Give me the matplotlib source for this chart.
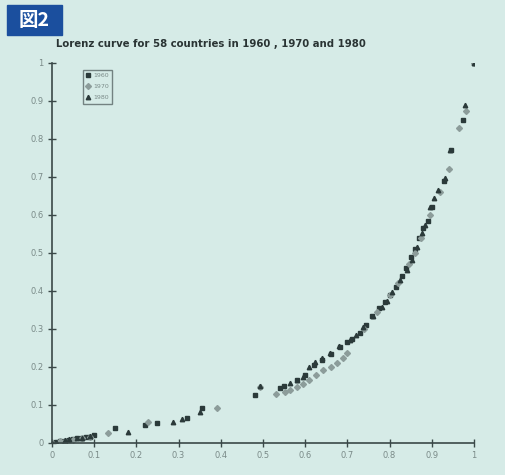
import matplotlib
matplotlib.use('Agg')
import matplotlib.pyplot as plt
from matplotlib.patches import Rectangle

# cumulative share of population (x) vs cumulative share of income (y)
x60 = [0.0, 0.01, 0.02, 0.03, 0.04, 0.05, 0.06, 0.07, 0.08, 0.09, 0.10, 0.149, 0.22, 0.25, 0.32,
       0.355, 0.48, 0.54, 0.55, 0.58, 0.60, 0.62, 0.64, 0.66, 0.682, 0.70, 0.71, 0.73, 0.745, 0.758,
       0.775, 0.79, 0.80, 0.815, 0.83, 0.84, 0.85, 0.86, 0.87, 0.88, 0.89, 0.9, 0.93, 0.945, 0.975, 1.0]
y60 = [0.0, 0.002, 0.004, 0.006, 0.008, 0.01, 0.012, 0.013, 0.015, 0.017, 0.02, 0.039, 0.047, 0.052, 0.066,
       0.092, 0.126, 0.145, 0.15, 0.166, 0.18, 0.205, 0.218, 0.235, 0.253, 0.265, 0.275, 0.289, 0.31, 0.335,
       0.355, 0.37, 0.39, 0.41, 0.44, 0.46, 0.49, 0.51, 0.54, 0.565, 0.585, 0.62, 0.69, 0.77, 0.85, 1.0]

x70 = [0.0, 0.02, 0.03, 0.05, 0.07, 0.09, 0.133, 0.227, 0.39, 0.493, 0.53, 0.552, 0.565, 0.58, 0.595,
       0.61, 0.625, 0.642, 0.66, 0.675, 0.69, 0.70, 0.74, 0.77, 0.80, 0.82, 0.845, 0.86, 0.875, 0.895,
       0.92, 0.94, 0.965, 0.98, 1.0]
y70 = [0.0, 0.004, 0.005, 0.008, 0.012, 0.016, 0.026, 0.055, 0.092, 0.147, 0.128, 0.134, 0.14, 0.147, 0.156,
       0.166, 0.178, 0.192, 0.2, 0.21, 0.225, 0.237, 0.3, 0.345, 0.39, 0.42, 0.47, 0.5, 0.54, 0.6,
       0.66, 0.72, 0.83, 0.875, 1.0]

x80 = [0.0, 0.01, 0.03, 0.04, 0.06, 0.07, 0.09, 0.18, 0.287, 0.308, 0.35, 0.493, 0.564, 0.58, 0.595,
       0.61, 0.623, 0.64, 0.659, 0.68, 0.706, 0.72, 0.737, 0.76, 0.782, 0.795, 0.806, 0.825, 0.841, 0.853,
       0.865, 0.877, 0.885, 0.896, 0.905, 0.915, 0.931, 0.943, 0.979, 1.0]
y80 = [0.0, 0.003, 0.007, 0.01, 0.012, 0.014, 0.018, 0.03, 0.055, 0.063, 0.082, 0.15, 0.158, 0.166, 0.174,
       0.2, 0.213, 0.225, 0.237, 0.255, 0.271, 0.285, 0.305, 0.335, 0.358, 0.375, 0.397, 0.429, 0.455, 0.482,
       0.516, 0.553, 0.575, 0.621, 0.645, 0.666, 0.697, 0.771, 0.889, 1.0]

ticks = [0, 0.1, 0.2, 0.3, 0.4, 0.5, 0.6, 0.7, 0.8, 0.9, 1]
tick_labels = ['0', '0.1', '0.2', '0.3', '0.4', '0.5', '0.6', '0.7', '0.8', '0.9', '1']

bg = '#d6ebe7'
dark = '#2b3a3a'
grey = '#8c9c9a'

fig = plt.figure(figsize=(5.06, 4.75), dpi=100, facecolor=bg)
ax = fig.add_axes([52 / 506, 32 / 475, 422 / 506, 380 / 475])
ax.set_facecolor(bg)

ax.plot(x60, y60, 's', ms=3, color=dark, mec=dark, label='1960')
ax.plot(x70, y70, 'D', ms=3, color=grey, mec=grey, label='1970')
ax.plot(x80, y80, '^', ms=3.2, color=dark, mec=dark, label='1980')

ax.set_xlim(0, 1)
ax.set_ylim(0, 1)
ax.set_xticks(ticks)
ax.set_xticklabels(tick_labels)
ax.set_yticks(ticks)
ax.set_yticklabels(tick_labels)
for s in ['top', 'right']:
    ax.spines[s].set_visible(False)
for s in ['left', 'bottom']:
    ax.spines[s].set_color('#3a4848')
    ax.spines[s].set_linewidth(1.2)
ax.tick_params(direction='inout', length=6, width=1, colors='#3a4848',
               labelsize=6, labelcolor='#7a8a88', pad=3)

leg = ax.legend(loc='upper left', bbox_to_anchor=(0.065, 0.99), fontsize=4.5,
                frameon=True, fancybox=False, edgecolor='#5a6868', facecolor=bg,
                handletextpad=0.4, borderpad=0.5, labelspacing=0.9, handlelength=0.8)
for t in leg.get_texts():
    t.set_color('#7a8a88')

fig.text(211 / 506, 1 - 44 / 475, 'Lorenz curve for 58 countries in 1960 , 1970 and 1980',
         ha='center', va='center', fontsize=7.3, fontweight='bold', color='#2a3434')

# figure label box
fig.patches.append(Rectangle((7 / 506, 1 - 35 / 475), 55 / 506, 30 / 475,
                             transform=fig.transFigure, color='#1b4f9e', zorder=5))
fig.text(34 / 506, 1 - 20 / 475, '図2', ha='center', va='center', fontsize=14,
         fontweight='bold', color='white', family=['Noto Sans CJK JP', 'DejaVu Sans'], zorder=6)

fig.savefig('out.png', dpi=100, facecolor=bg)
